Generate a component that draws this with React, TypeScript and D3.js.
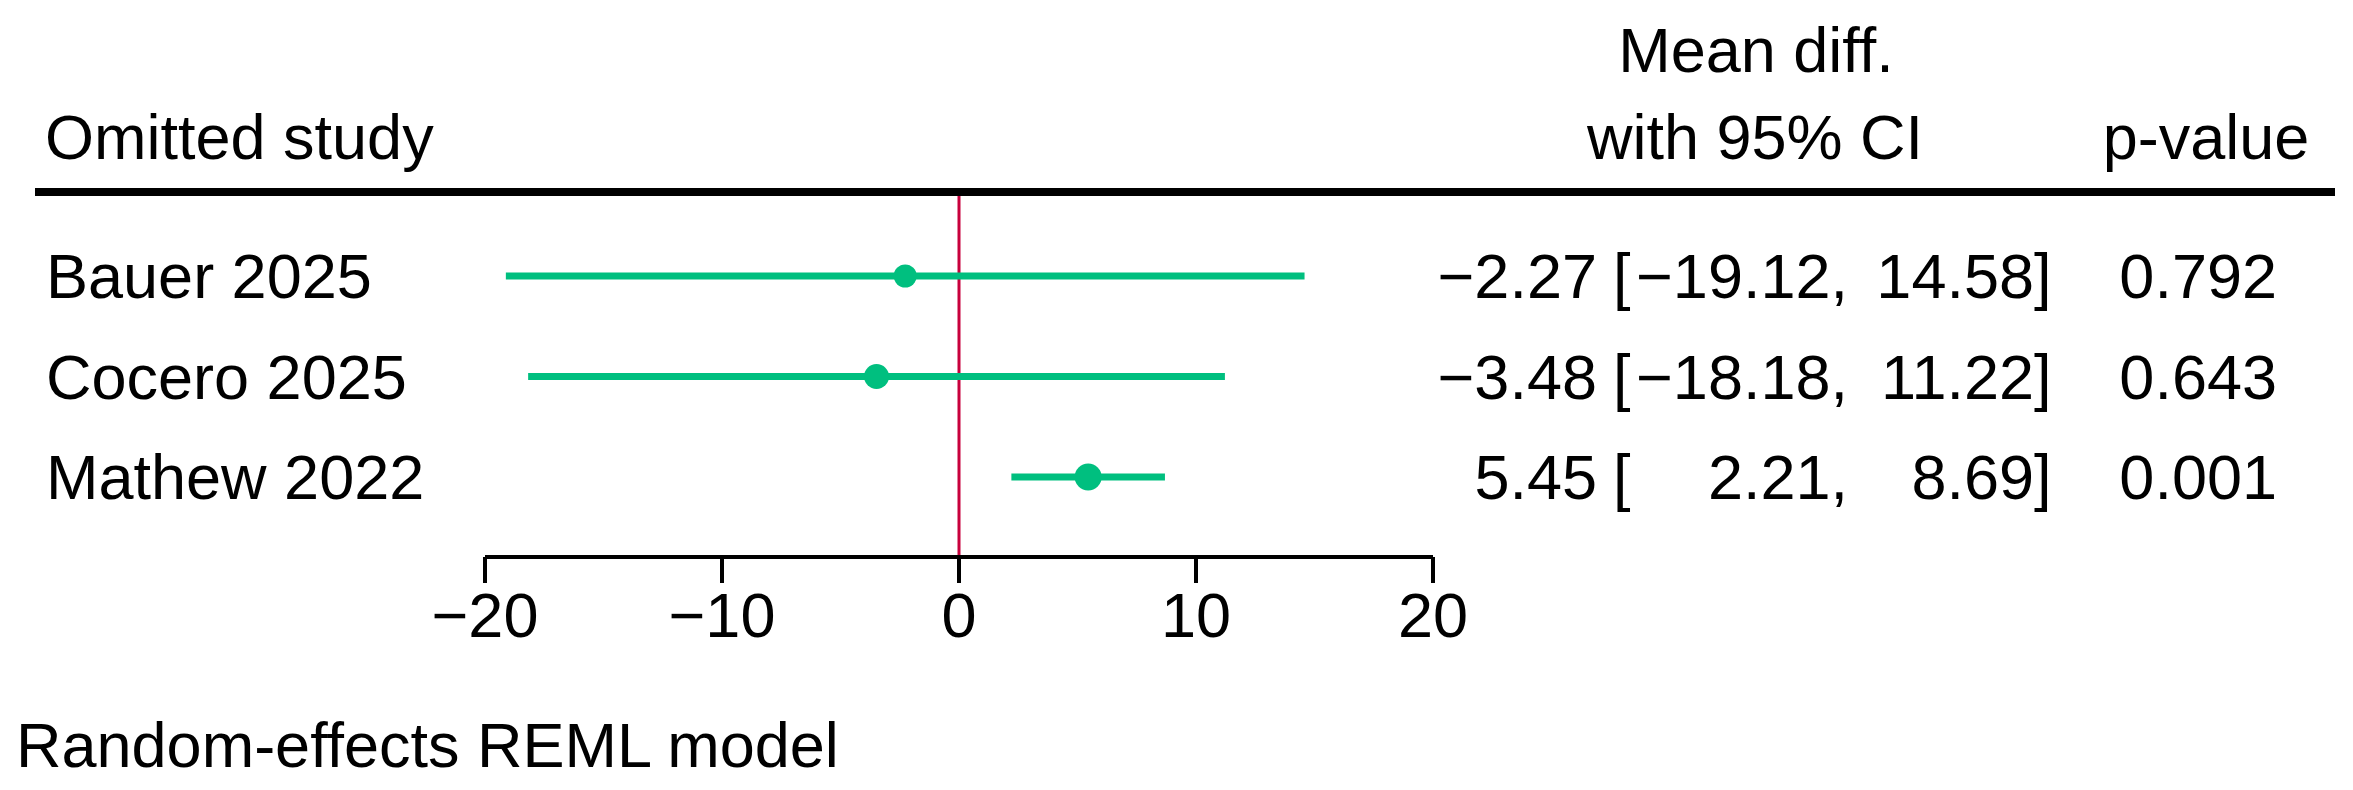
import React from "react";
import * as d3 from "d3";

const studies = ["Bauer 2025", "Cocero 2025", "Mathew 2022"];
const estimates = [-2.27, -3.48, 5.45];
const lowers = [-19.12, -18.18, 2.21];
const uppers = [14.58, 11.22, 8.69];
const pValues = ["0.792", "0.643", "0.001"];
const pointSizes = [23, 25, 27];
const axisTicks = [-20, -10, 0, 10, 20];
const studyHeader = "Omitted study";
const effectHeader = ["Mean diff.", "with 95% CI"];
const pHeader = "p-value";
const footer = "Random-effects REML model";

const W = 2353;
const H = 790;
const FONT = "'Liberation Sans', Arial, Helvetica, sans-serif";
const FS = 63;
const GREEN = "#00BF7F";
const RED = "#C8003C";

const fmt = (v: number) => v.toFixed(2).replace("-", "\u2212");

export default function App() {
  const x = d3.scaleLinear().domain([-20, 20]).range([485, 1433]);
  const y = d3.scaleLinear().domain([0, studies.length - 1]).range([276, 477]);
  const headLineY = 192;
  const axisY = 557;
  const textDy = 22;

  return (
    <svg
      width={W}
      height={H}
      style={{ position: "absolute", left: 0, top: 0, background: "#fff" }}
      fontFamily={FONT}
      fontSize={FS}
    >
      {/* headers */}
      <text x={45} y={159}>{studyHeader}</text>
      <text x={1756} y={72} textAnchor="middle">{effectHeader[0]}</text>
      <text x={1755} y={159} textAnchor="middle">{effectHeader[1]}</text>
      <text x={2206} y={159} textAnchor="middle">{pHeader}</text>
      <line x1={35} x2={2335} y1={headLineY} y2={headLineY} stroke="#000" strokeWidth={8} />

      {/* reference line */}
      <line x1={x(0)} x2={x(0)} y1={headLineY + 4} y2={axisY} stroke={RED} strokeWidth={3} />

      {/* rows */}
      {studies.map((s, i) => (
        <g key={s}>
          <text x={46} y={y(i) + textDy}>{s}</text>
          <line x1={x(lowers[i])} x2={x(uppers[i])} y1={y(i)} y2={y(i)} stroke={GREEN} strokeWidth={7} />
          <circle cx={x(estimates[i])} cy={y(i)} r={pointSizes[i] / 2} fill={GREEN} />
          <text x={1597} y={y(i) + textDy} textAnchor="end">{fmt(estimates[i])}</text>
          <text x={1613} y={y(i) + textDy}>[</text>
          <text x={1848} y={y(i) + textDy} textAnchor="end">{fmt(lowers[i]) + ","}</text>
          <text x={2034} y={y(i) + textDy} textAnchor="end">{fmt(uppers[i])}</text>
          <text x={2034} y={y(i) + textDy}>]</text>
          <text x={2277} y={y(i) + textDy} textAnchor="end">{pValues[i]}</text>
        </g>
      ))}

      {/* axis */}
      <line x1={x(axisTicks[0])} x2={x(axisTicks[axisTicks.length - 1])} y1={axisY} y2={axisY} stroke="#000" strokeWidth={4} />
      {axisTicks.map((t) => (
        <g key={t}>
          <line x1={x(t)} x2={x(t)} y1={axisY} y2={axisY + 26} stroke="#000" strokeWidth={4} />
          <text x={x(t)} y={637} textAnchor="middle">{d3.format("d")(t)}</text>
        </g>
      ))}

      <text x={16} y={767}>{footer}</text>
    </svg>
  );
}
